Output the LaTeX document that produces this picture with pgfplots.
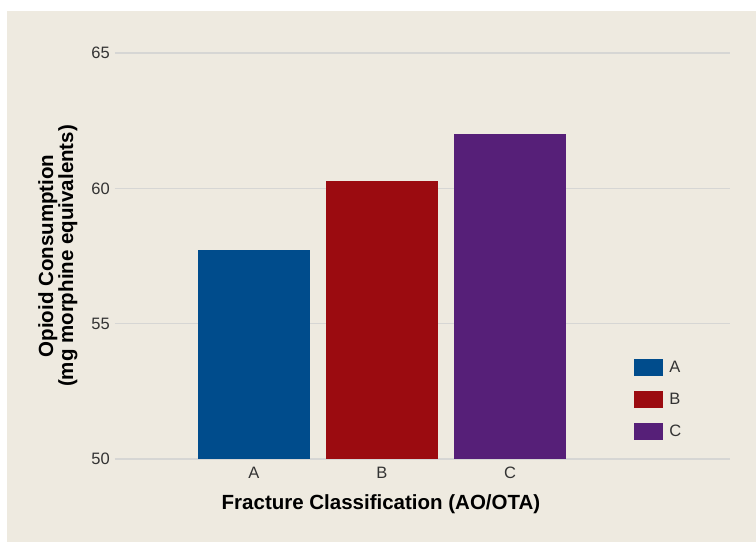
\documentclass[border=0pt]{standalone}
\usepackage{pgfplots}
\pgfplotsset{compat=1.18}
\usepackage{fontspec}
\setmainfont{Liberation Sans}

\definecolor{panel}{HTML}{EEEAE0}
\definecolor{gridc}{HTML}{D6D6D4}
\definecolor{barA}{HTML}{004C8C}
\definecolor{barB}{HTML}{9B0B10}
\definecolor{barC}{HTML}{561F78}
\definecolor{tickc}{HTML}{333333}

\begin{document}
\begin{tikzpicture}[x=1pt,y=1pt]
  \path[use as bounding box] (0,0) rectangle (756,542);
  \fill[panel] (7,0) rectangle (756,531);
  \begin{axis}[
      at={(115pt,83pt)}, anchor=south west,
      scale only axis,
      width=615pt, height=406pt,
      xmin=-1.086, xmax=3.719,
      ymin=50, ymax=65,
      ytick={50,55,60,65},
      xtick={0,1,2},
      xticklabels={A,B,C},
      axis line style={draw=none},
      major tick length=0pt,
      ymajorgrids,
      grid style={gridc, line width=1.4pt},
      ybar, bar width=112pt, bar shift=0pt,
      tick label style={font=\fontsize{16.5}{18}\selectfont, text=tickc},
      /pgf/number format/assume math mode=true,
      yticklabel style={inner sep=0pt, xshift=-5pt},
      xticklabel style={inner sep=0pt, yshift=-8pt},
      xlabel={Fracture Classification (AO/OTA)},
      xlabel style={at={(axis description cs:0.4325,0)}, anchor=base, yshift=-50pt,
        font=\fontsize{20.5}{22}\selectfont\bfseries},
      ylabel={Opioid Consumption\\(mg morphine equivalents)},
      ylabel style={align=center, at={(axis description cs:-0.0927,0.5)}, anchor=center,
        font=\fontsize{20.5}{20}\selectfont\bfseries},
      legend cell align=left,
      legend style={draw=none, fill=none, inner sep=0pt,
        at={(axis description cs:0.844,0.2463)}, anchor=north west,
        row sep=15pt, font=\fontsize{16.5}{18}\selectfont\color{tickc}},
      legend image code/.code={\fill[#1] (0pt,-8.5pt) rectangle (29pt,8.5pt);
        \path (33pt,0pt);},
    ]
    \addplot[fill=barA, draw=none] coordinates {(0,57.72)};
    \addplot[fill=barB, draw=none] coordinates {(1,60.28)};
    \addplot[fill=barC, draw=none] coordinates {(2,62.02)};
    \legend{A,B,C}
  \end{axis}
\end{tikzpicture}
\end{document}
